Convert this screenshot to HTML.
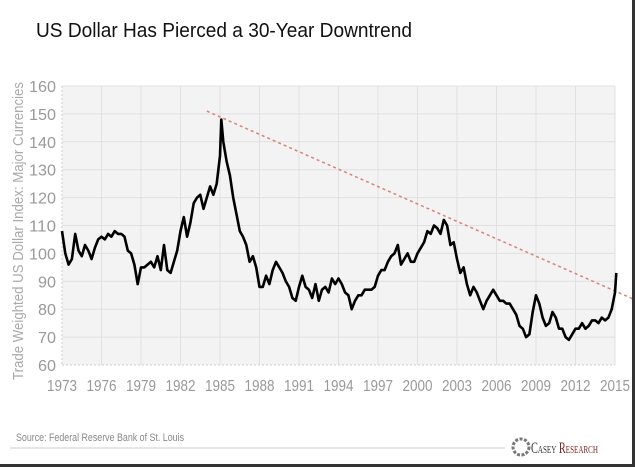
<!DOCTYPE html>
<html><head><meta charset="utf-8"><style>
body{margin:0;background:#fff;}
#wrap{position:relative;width:635px;height:467px;overflow:hidden;background:#fff;font-family:"Liberation Sans",sans-serif;}
</style></head><body>
<div id="wrap">
<svg id="svg" width="635" height="467"></svg>
</div>
<script>
const years=[1973,1973.25,1973.5,1973.75,1974,1974.25,1974.5,1974.75,1975,1975.25,1975.5,1975.75,1976,1976.25,1976.5,1976.75,1977,1977.25,1977.5,1977.75,1978,1978.25,1978.5,1978.75,1979,1979.25,1979.5,1979.75,1980,1980.25,1980.5,1980.75,1981,1981.25,1981.5,1981.75,1982,1982.25,1982.5,1982.75,1983,1983.25,1983.5,1983.75,1984,1984.25,1984.5,1984.75,1985,1985.1,1985.25,1985.5,1985.75,1986,1986.25,1986.5,1986.75,1987,1987.25,1987.5,1987.75,1988,1988.25,1988.5,1988.75,1989,1989.25,1989.5,1989.75,1990,1990.25,1990.5,1990.75,1991,1991.25,1991.5,1991.75,1992,1992.25,1992.5,1992.75,1993,1993.25,1993.5,1993.75,1994,1994.25,1994.5,1994.75,1995,1995.25,1995.5,1995.75,1996,1996.25,1996.5,1996.75,1997,1997.25,1997.5,1997.75,1998,1998.25,1998.5,1998.75,1999,1999.25,1999.5,1999.75,2000,2000.25,2000.5,2000.75,2001,2001.25,2001.5,2001.75,2002,2002.25,2002.5,2002.75,2003,2003.25,2003.5,2003.75,2004,2004.25,2004.5,2004.75,2005,2005.25,2005.5,2005.75,2006,2006.25,2006.5,2006.75,2007,2007.25,2007.5,2007.75,2008,2008.25,2008.5,2008.75,2009,2009.25,2009.5,2009.75,2010,2010.25,2010.5,2010.75,2011,2011.25,2011.5,2011.75,2012,2012.25,2012.5,2012.75,2013,2013.25,2013.5,2013.75,2014,2014.25,2014.5,2014.75,2015,2015.1];
const values=[108,100,96,98,107,101,99,103,101,98,102,105,106,105,107,106,108,107,107,106,101,100,96,89,95,95,96,97,95,99,94,103,94,93,97,101,108,113,106,111,118,120,121,116,120,124,121,125,135,148,140,133,128,120,114,108,106,103,97,99,95,88,88,92,89,94,97,95,93,90,88,84,83,88,92,88,87,84,89,83,87,88,86,91,89,91,89,86,85,80,83,85,85,87,87,87,88,92,94,94,97,99,100,103,96,98,100,97,97,100,102,104,108,107,110,109,107,112,110,103,104,98,93,95,89,85,88,86,83,80,83,85,87,85,83,83,82,82,80,78,74,73,70,71,79,85,82,77,74,75,79,77,73,73,70,69,71,73,73,75,73,74,76,76,75,77,76,77,80,86,93];
const xTicks=[1973,1976,1979,1982,1985,1988,1991,1994,1997,2000,2003,2006,2009,2012,2015];
const yTicks=[60,70,80,90,100,110,120,130,140,150,160];
const trendYears=[1984,2016.5];
const trendValues=[151,83.4];

const NS="http://www.w3.org/2000/svg";
const svg=document.getElementById('svg');
const X0=62,X1=615,Y0=365,Y1=86;
const x=v=>X0+(v-1973)/(2015-1973)*(X1-X0);
const y=v=>Y0-(v-60)/(160-60)*(Y0-Y1);
function mk(t,a,p){const e=document.createElementNS(NS,t);for(const k in a)e.setAttribute(k,a[k]);(p||svg).appendChild(e);return e;}

let e;
e=mk('text',{x:36,y:37,'font-size':20,fill:'#111',textLength:376,lengthAdjust:'spacingAndGlyphs'});e.textContent='US Dollar Has Pierced a 30-Year Downtrend';



e=mk('rect',{x:X0,y:Y1,width:X1-X0,height:Y0-Y1,fill:'#f3f3f3'});



yTicks.forEach(t=>{
  const l=mk('line',{x1:X0,x2:X1,y1:y(t),y2:y(t),stroke:t===60?'#ccc':'#e0e0e0','stroke-width':1,'stroke-dasharray':t===60?'2,2':''});
  
  
  const tx=mk('text',{x:X0-6,y:y(t)+6,'text-anchor':'end','font-size':16,fill:'#999',textLength:t>=100?27:18,lengthAdjust:'spacingAndGlyphs'});tx.textContent=t;
  
  
});
xTicks.forEach(t=>{
  const l=mk('line',{x1:x(t),x2:x(t),y1:Y1,y2:Y0,stroke:t===1973?'#ccc':'#e0e0e0','stroke-width':1,'stroke-dasharray':t===1973?'2,2':''});
  
  
  const tx=mk('text',{x:x(t)-15,y:391,'font-size':16,fill:'#999',textLength:30,lengthAdjust:'spacingAndGlyphs'});tx.textContent=t;
  
  
});

e=mk('text',{transform:'translate(23,380) rotate(-90)','font-size':15,fill:'#aaa',textLength:298,lengthAdjust:'spacingAndGlyphs'});
e.textContent='Trade Weighted US Dollar Index: Major Currencies';



e=mk('line',{x1:x(trendYears[0]),y1:y(trendValues[0]),x2:x(trendYears[1]),y2:y(trendValues[1]),stroke:'#d9827a','stroke-width':1.5,'stroke-dasharray':'3,3'});



e=mk('path',{d:years.map((t,i)=>(i?'L':'M')+x(t).toFixed(1)+','+y(values[i]).toFixed(1)).join(''),fill:'none',stroke:'#000','stroke-width':2.6,'stroke-linejoin':'round'});



e=mk('text',{x:16,y:441,'font-size':11,fill:'#888',textLength:168,lengthAdjust:'spacingAndGlyphs'});e.textContent='Source: Federal Reserve Bank of St. Louis';



e=mk('line',{x1:10,x2:505,y1:448,y2:448,stroke:'#ccc','stroke-width':1});



e=mk('circle',{cx:521,cy:447,r:8,fill:'none',stroke:'#777','stroke-width':3,'stroke-dasharray':'3,1.5'});


e=mk('text',{x:531,y:453,'font-size':16,fill:'#333','font-family':'"Liberation Serif",serif',textLength:67,lengthAdjust:'spacingAndGlyphs'});
e.innerHTML='C<tspan font-size="11">ASEY</tspan> <tspan fill="#7a1f1f">R<tspan font-size="11">ESEARCH</tspan></tspan>';



e=mk('rect',{x:632,y:0,width:3,height:467,fill:'#333'});


e=mk('rect',{x:0,y:464,width:635,height:3,fill:'#333'});


</script>
</body></html>
